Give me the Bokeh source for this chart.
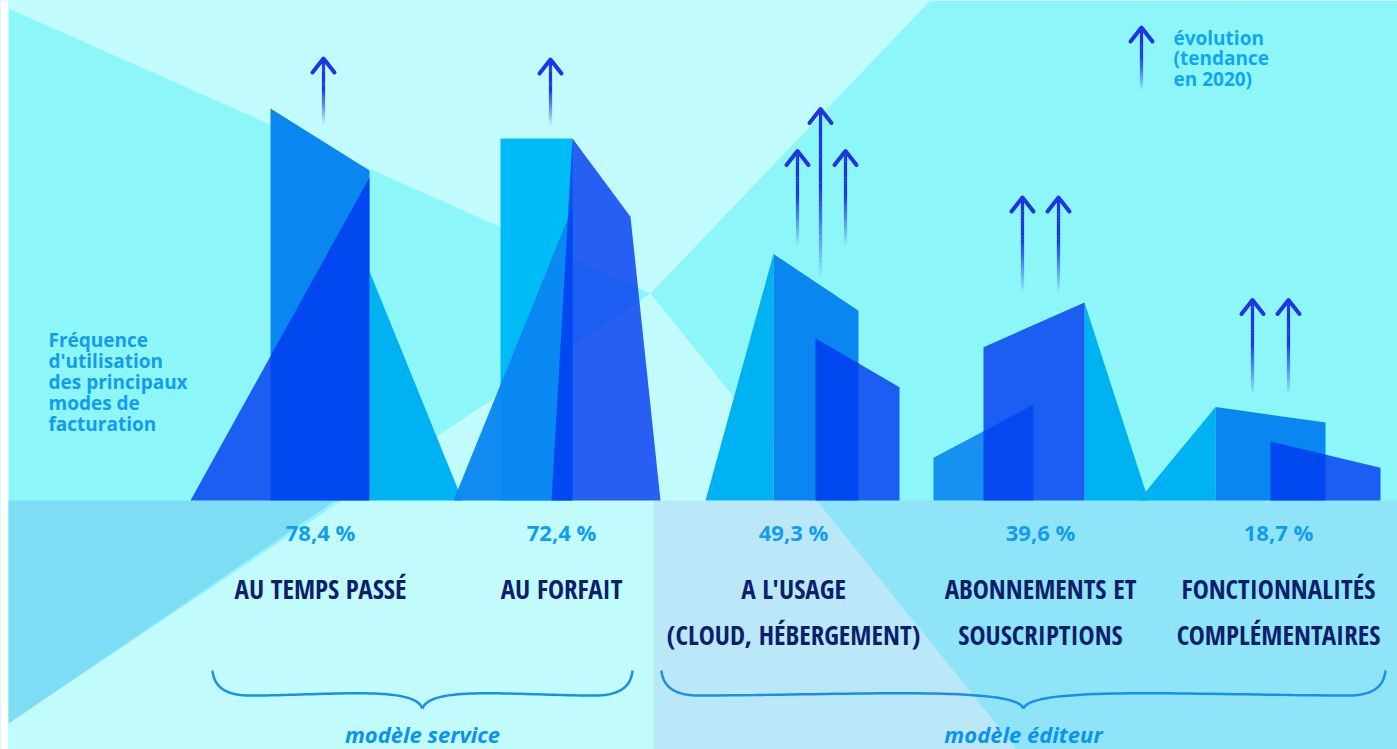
import numpy as np
from bokeh.plotting import figure
from bokeh.models import Range1d, ColumnDataSource
from bokeh.core.properties import value
from bokeh.embed import file_html
from bokeh.resources import INLINE

# ---------------- data ----------------
categories = ["AU TEMPS PASSÉ", "AU FORFAIT", "A L'USAGE\n(CLOUD, HÉBERGEMENT)",
              "ABONNEMENTS ET\nSOUSCRIPTIONS", "FONCTIONNALITÉS\nCOMPLÉMENTAIRES"]
values = [78.4, 72.4, 49.3, 39.6, 18.7]
value_labels = ["78,4 %", "72,4 %", "49,3 %", "39,6 %", "18,7 %"]
trend_arrows = [1, 1, 3, 2, 2]
groups = ["modèle service", "modèle éditeur"]
group_members = [[0, 1], [2, 3, 4]]
side_title = ["Fréquence", "d'utilisation", "des principaux", "modes de", "facturation"]
legend_lines = ["évolution", "(tendance", "en 2020)"]

# ---------------- layout ----------------
W, H = 1397, 749
PX = 5.0        # pixels per percentage point
BASE = 500      # baseline (page px)

def Y(py):
    return (BASE - py) / PX

cat_x = [320, 561, 793, 1040, 1278]

BG = "#8df6f9"
BGL = "#c1fbfc"
DARK = "#0038f0"
MED = "#0a86f0"
LIGHT = "#00b2f2"
CYAN = "#00bcf6"
ARROW = "#1c36e6"
TXT = "#129cf0"
NAVY = "#0d1f6b"
BRACE = "#1a8fe8"

p = figure(width=W, height=H, x_range=Range1d(0, W), y_range=Range1d(Y(H), Y(0)),
           output_backend="svg", toolbar_location=None, min_border=0,
           x_axis_type=None, y_axis_type=None, background_fill_color=BG,
           border_fill_color="white", outline_line_color=None)
p.grid.visible = False

# ---------------- background shapes ----------------
bx, by, bc, ba = [], [], [], []
def bg_poly(xs, ys, c, a=1.0):
    bx.append(list(xs)); by.append([Y(v) for v in ys]); bc.append(c); ba.append(a)

bg_poly([0, 8, 8, 0], [0, 0, 760, 760], "white")
bg_poly([8, 650, 930, 8], [8, 293, 0, 0], BGL)
bg_poly([650, 8, 8, 1025], [293, 723, 760, 760], BGL)
bg_poly([8, 335, 8], [500, 500, 723], "#7fdcf5")
bg_poly([653, 1400, 1400, 653], [500, 500, 760, 760], "#a0a0f0", 0.2)
p.patches(xs="xs", ys="ys", fill_color="c", fill_alpha="a", line_color=None,
          source=ColumnDataSource(dict(xs=bx, ys=by, c=bc, a=ba)))

# ---------------- buildings (heights driven by values) ----------------
templates = [
    [([49, 142, 49], [0.585, 0, 0], LIGHT, 1.0),
     ([-50, -50, 49, 49], [0, 1, 0.842, 0], MED, 1.0),
     ([-130, 49, 49], [0, 0.824, 0], DARK, 0.8)],
    [([-61, -61, 11, 11], [0, 1, 1, 0], CYAN, 1.0),
     ([-108, 11, 11], [0, 0.81, 0], MED, 0.95),
     ([11, 69, 99, -10], [1, 0.784, 0, 0], DARK, 0.8)],
    [([-88, -20, -20], [0, 1, 0], LIGHT, 1.0),
     ([-20, -20, 65, 65], [0, 1, 0.77, 0], MED, 1.0),
     ([22, 22, 106, 106], [0, 0.658, 0.459, 0], DARK, 0.8)],
    [([44, 108, 44], [1, 0, 0], LIGHT, 1.0),
     ([-107, -107, -7, -7], [0, 0.216, 0.484, 0], MED, 0.9),
     ([-57, -57, 44, 44], [0, 0.774, 1, 0], DARK, 0.8)],
    [([-140, -63, -63], [0, 1, 0], LIGHT, 1.0),
     ([-63, -63, 47, 47], [0, 1, 0.835, 0], MED, 1.0),
     ([-8, -8, 102, 102], [0, 0.631, 0.35, 0], DARK, 0.8)],
]
px_, py_, pc_, pa_ = [], [], [], []
for cx, v, tpl in zip(cat_x, values, templates):
    for dxs, fys, c, a in tpl:
        px_.append([cx + d for d in dxs])
        py_.append([v * f for f in fys])
        pc_.append(c); pa_.append(a)
p.patches(xs="xs", ys="ys", fill_color="c", fill_alpha="a", line_color=None,
          source=ColumnDataSource(dict(xs=px_, ys=py_, c=pc_, a=pa_)))

# ---------------- trend arrows ----------------
arrow_layouts = [
    [(3, -16, 50)],
    [(-11, 13, 79)],
    [(4, 8, 103), (27, -25, 145), (52, 8, 103)],
    [(-18, 10, 105), (18, 10, 105)],
    [(-26, 12, 107), (10, 12, 107)],
]
ql, qr, qb, qt, qa = [], [], [], [], []
hx, hy = [], []
def arrow(x, tail_u, head_u):
    n = 30
    ys = np.linspace(tail_u, head_u - 0.3, n + 1)
    for i in range(n):
        ql.append(x - 1.6); qr.append(x + 1.6)
        qb.append(ys[i]); qt.append(ys[i + 1] + 0.05)
        qa.append(min(1.0, (i + 0.5) / (n * 0.55)))
    hx.append([x - 11, x, x + 11]); hy.append([head_u - 2.8, head_u, head_u - 2.8])

for cx, v, n, lay in zip(cat_x, values, trend_arrows, arrow_layouts):
    for dx, t_off, h_off in lay[:n]:
        arrow(cx + dx, v + t_off / PX, v + h_off / PX)
arrow(1141, Y(90), Y(27))

p.quad(left="l", right="r", bottom="b", top="t", fill_color=ARROW, fill_alpha="a", line_color=None,
       source=ColumnDataSource(dict(l=ql, r=qr, b=qb, t=qt, a=qa)))
p.multi_line(xs=hx, ys=hy, line_color=ARROW, line_width=4, line_cap="round", line_join="round")

# ---------------- texts ----------------
p.text(x=cat_x, y=[Y(531)] * len(cat_x), text=value_labels, text_align="center",
       text_baseline="middle", text_color=TXT, text_font=value("Open Sans"),
       text_font_style="bold", text_font_size="22px")

lx, ly, lt = [], [], []
for cx, c in zip(cat_x, categories):
    for k, line in enumerate(c.split("\n")):
        lx.append(cx); ly.append(Y(588 + 46 * k)); lt.append(line)
p.text(x=lx, y=ly, text=lt, text_align="center", text_baseline="middle",
       text_color=NAVY, text_font=value("Open Sans Condensed"), text_font_size="27px")

p.text(x=[48] * len(side_title), y=[Y(339 + 21 * k) for k in range(len(side_title))],
       text=side_title, text_align="left", text_baseline="middle", text_color=TXT,
       text_font=value("Open Sans"), text_font_style="bold", text_font_size="19px")

p.text(x=[1173] * len(legend_lines), y=[Y(37 + 20.5 * k) for k in range(len(legend_lines))],
       text=legend_lines, text_align="left", text_baseline="middle", text_color="#10a6f4",
       text_font=value("Open Sans"), text_font_style="bold", text_font_size="19px")

# ---------------- braces + group labels ----------------
def bez(p0, p1, p2, p3, n=40):
    t = np.linspace(0, 1, n)[:, None]
    pts = ((1 - t) ** 3) * np.array(p0) + 3 * ((1 - t) ** 2) * t * np.array(p1) \
        + 3 * (1 - t) * t ** 2 * np.array(p2) + t ** 3 * np.array(p3)
    return pts

def brace(x0, x1, xc, ye=670, yb=695, yt=708):
    left = np.vstack([bez((x0, ye), (x0 + 2, ye + 20), (x0 + 18, yb + 1), (x0 + 45, yb)),
                      bez((x0 + 45, yb), ((x0 + 45 + xc) / 2, yb - 1), (xc - 8, yb - 9), (xc, yt))])
    right = np.vstack([bez((x1, ye), (x1 - 2, ye + 20), (x1 - 18, yb + 1), (x1 - 45, yb)),
                       bez((x1 - 45, yb), ((x1 - 45 + xc) / 2, yb - 1), (xc + 8, yb - 9), (xc, yt))])
    return [list(left[:, 0]), list(right[:, 0])], [[Y(v) for v in left[:, 1]], [Y(v) for v in right[:, 1]]]

brace_ext = [(212, 632), (661, 1385)]
gxs, gys, gx = [], [], []
for (x0, x1) in brace_ext:
    xc = (x0 + x1) / 2
    xs, ys = brace(x0, x1, xc)
    gxs += xs; gys += ys; gx.append(xc)
p.multi_line(xs=gxs, ys=gys, line_color=BRACE, line_width=2.5)

p.text(x=gx, y=[Y(733)] * len(gx), text=groups, text_align="center", text_baseline="middle",
       text_color="#0a94ee", text_font=value("Open Sans"), text_font_style="bold italic",
       text_font_size="22px")

open("out.html", "w").write(file_html(p, INLINE))
